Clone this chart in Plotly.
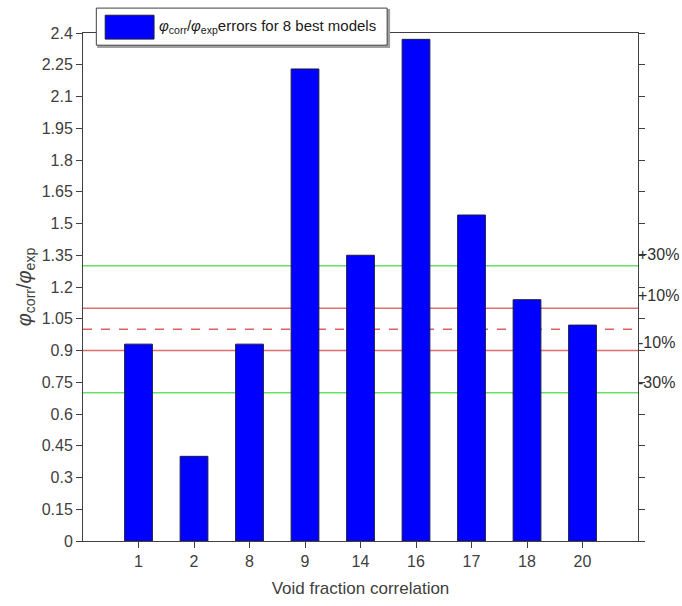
import plotly.graph_objects as go

categories = ["1", "2", "8", "9", "14", "16", "17", "18", "20"]
ratios = [0.93, 0.40, 0.93, 2.23, 1.35, 2.37, 1.54, 1.14, 1.02]
y_ticks = [0, 0.15, 0.3, 0.45, 0.6, 0.75, 0.9, 1.05, 1.2, 1.35, 1.5, 1.65, 1.8, 1.95, 2.1, 2.25, 2.4]
y_tick_text = ["0", "0.15", "0.3", "0.45", "0.6", "0.75", "0.9", "1.05", "1.2", "1.35", "1.5",
               "1.65", "1.8", "1.95", "2.1", "2.25", "2.4"]
band_labels = ["+30%", "+10%", "-10%", "-30%"]
band_label_pos = [1.355, 1.16, 0.94, 0.75]
green_lines = [1.3, 0.7]
red_lines = [1.1, 0.9]
ref_line = 1.0

xpos = list(range(1, len(categories) + 1))
font_col = "#404040"
fam = "Liberation Sans, Arial"

fig = go.Figure()
fig.add_trace(go.Bar(
    x=xpos, y=ratios, width=0.5,
    marker=dict(color="#0000ff", line=dict(color="#1a1a4a", width=1)),
    showlegend=False,
))

shapes = []
for v in green_lines:
    shapes.append(dict(type="line", xref="paper", yref="y", x0=0, x1=1, y0=v, y1=v,
                       line=dict(color="#66e066", width=1.5), layer="below"))
for v in red_lines:
    shapes.append(dict(type="line", xref="paper", yref="y", x0=0, x1=1, y0=v, y1=v,
                       line=dict(color="#e07070", width=1.5), layer="below"))
shapes.append(dict(type="line", xref="paper", yref="y", x0=0, x1=1, y0=ref_line, y1=ref_line,
                   line=dict(color="#e06060", width=1.5, dash="dash"), layer="below"))
# manual legend
shapes.append(dict(type="rect", xref="paper", yref="paper", x0=0.027, x1=0.552, y0=0.972, y1=1.046,
                   line=dict(color="#a0a0a0", width=1.5), fillcolor="#a0a0a0", layer="above"))
shapes.append(dict(type="rect", xref="paper", yref="paper", x0=0.024, x1=0.548, y0=0.976, y1=1.049,
                   line=dict(color="#404040", width=1), fillcolor="white", layer="above"))
shapes.append(dict(type="rect", xref="paper", yref="paper", x0=0.04, x1=0.128, y0=0.988, y1=1.035,
                   line=dict(color="#1a1a4a", width=1), fillcolor="#0000ff", layer="above"))

annotations = []
for lab, pos in zip(band_labels, band_label_pos):
    annotations.append(dict(x=1.0, y=pos, xref="paper", yref="y", text=lab, showarrow=False,
                            xanchor="left", yanchor="middle", xshift=-2,
                            font=dict(family=fam, size=16, color="#303030")))
annotations.append(dict(x=0.133, y=1.012, xref="paper", yref="paper",
                        text="<i>φ</i><sub>corr</sub>/<i>φ</i><sub>exp</sub>errors for 8 best models",
                        showarrow=False, xanchor="left", yanchor="middle",
                        font=dict(family=fam, size=15, color="#202020")))

fig.update_layout(
    width=682, height=606,
    margin=dict(l=83, r=44, t=33, b=63),
    paper_bgcolor="white", plot_bgcolor="white",
    font=dict(family=fam, size=16, color=font_col),
    shapes=shapes, annotations=annotations,
    xaxis=dict(
        range=[0, 10], tickmode="array", tickvals=xpos, ticktext=categories,
        showline=True, linecolor=font_col, linewidth=1, mirror=True,
        ticks="outside", ticklen=6, tickcolor=font_col, showgrid=False, zeroline=False,
        tickfont=dict(size=16),
        title=dict(text="Void fraction correlation", font=dict(size=17, color=font_col), standoff=12),
    ),
    yaxis=dict(
        range=[0, 2.4], tickmode="array", tickvals=y_ticks, ticktext=y_tick_text,
        showline=True, linecolor=font_col, linewidth=1, mirror="ticks",
        ticks="outside", ticklen=6, tickcolor=font_col, showgrid=False, zeroline=False,
        tickfont=dict(size=16),
        title=dict(text="<i>φ</i><sub>corr</sub>/<i>φ</i><sub>exp</sub>", font=dict(size=20, color=font_col), standoff=4),
    ),
)

fig.write_html("out.html")
